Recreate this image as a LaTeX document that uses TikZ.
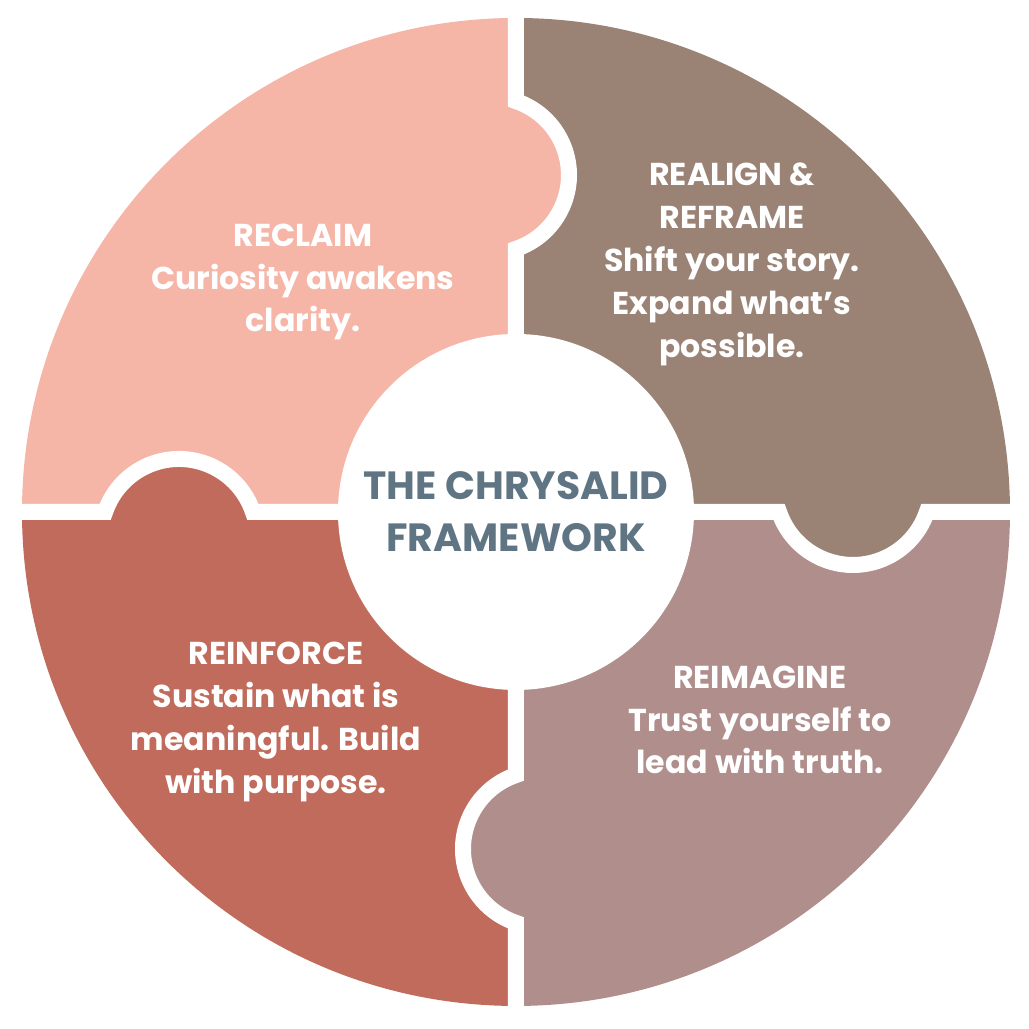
\documentclass[tikz,border=0pt]{standalone}
\usepackage{fontspec}
\setmainfont{Poppins}
\usepackage{tikz}
\usetikzlibrary{positioning}
\definecolor{creclaim}{RGB}{245,182,168}
\definecolor{crealign}{RGB}{154,130,117}
\definecolor{creimagine}{RGB}{176,142,140}
\definecolor{creinforce}{RGB}{192,107,91}
\definecolor{chub}{RGB}{95,117,131}
\tikzset{
  phase/.style={align=center,text=white,inner sep=0pt,
    font=\fontsize{9}{12.2}\selectfont\bfseries},
  hub/.style={circle,fill=white,minimum size=3.56cm,inner sep=0pt,
    align=center,text=chub,font=\fontsize{11.2}{14.8}\selectfont\bfseries},
  gap/.style={draw=white,line width=0.16cm},
}

\begin{document}
\begin{tikzpicture}
  \useasboundingbox (-5.16,-5.17) rectangle (5.13,5.12);
  % quadrants, clockwise from the top left
  \foreach \c [count=\i from 0] in {creclaim,crealign,creimagine,creinforce}
    \fill[\c,rotate=-90*\i] (0,0) -- (0,4.94)
      arc[start angle=90,end angle=180,radius=4.94] -- cycle;
  % each piece sends a tab into the next one
  \foreach \c [count=\i from 0] in {creclaim,crealign,creimagine,creinforce}
    \fill[\c,rotate=-90*\i] (0,2.631)
      arc[start angle=-71.3,end angle=71.3,radius=0.78]
      -- (-0.1,4.109) -- (-0.1,2.631) -- cycle;
  % white cuts between the pieces
  \foreach \i in {0,...,3}
    \draw[gap,rotate=-90*\i] (0,0) -- (0,2.631)
      arc[start angle=-71.3,end angle=71.3,radius=0.78] -- (0,5.2);
  \node[hub] (hub) at (0,0) {THE CHRYSALID\\FRAMEWORK};
  \node[phase] (reclaim) at (-2.13,2.30) {RECLAIM\\Curiosity awakens\\clarity.};
  \node[phase] (realign) at (2.16,2.475)
    {REALIGN \&\\REFRAME\\Shift your story.\\Expand what’s\\possible.};
  \node[phase] (reimagine) at (2.44,-2.08)
    {REIMAGINE\\Trust yourself to\\lead with truth.};
  \node[phase] (reinforce) at (-2.40,-2.10)
    {REINFORCE\\Sustain what is\\meaningful. Build\\with purpose.};
\end{tikzpicture}
\end{document}
